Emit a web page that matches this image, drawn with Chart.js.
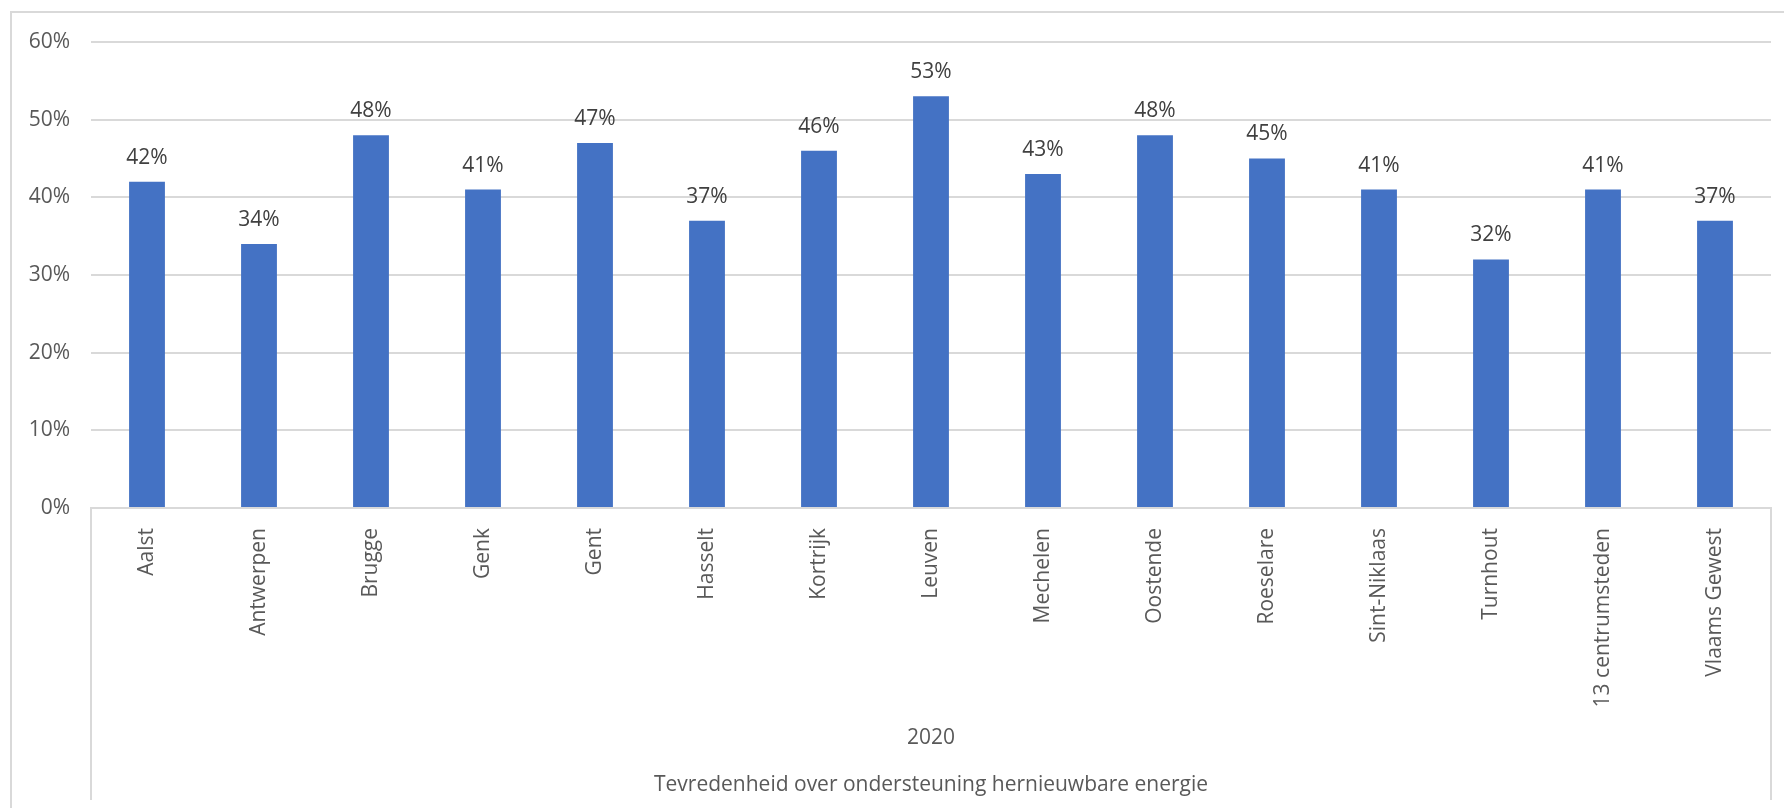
<!DOCTYPE html>
<html>
<head>
<meta charset="utf-8">
<title>Tevredenheid over ondersteuning hernieuwbare energie</title>
<script src="https://cdn.jsdelivr.net/npm/chart.js@4.4.1/dist/chart.umd.min.js"></script>
<style>
  html, body { margin: 0; padding: 0; background: #ffffff; }
  #wrap { width: 1784px; height: 808px; position: relative; }
</style>
</head>
<body>
<div id="wrap"><canvas id="satisfactionChart" width="1784" height="808"></canvas></div>
<script>
// chart data
const cities = ['Aalst', 'Antwerpen', 'Brugge', 'Genk', 'Gent', 'Hasselt', 'Kortrijk', 'Leuven',
  'Mechelen', 'Oostende', 'Roeselare', 'Sint-Niklaas', 'Turnhout', '13 centrumsteden', 'Vlaams Gewest'];
const satisfaction2020 = [42, 34, 48, 41, 47, 37, 46, 53, 43, 48, 45, 41, 32, 41, 37];
const yTicks = [0, 10, 20, 30, 40, 50, 60];
const yearLabel = '2020';
const groupLabel = 'Tevredenheid over ondersteuning hernieuwbare energie';

const FONT = '"Open Sans", "Noto Sans", sans-serif';
const TEXT = '#595959';
const LINE = '#d9d9d9';

// value labels above each bar
const barLabels = {
  id: 'barLabels',
  afterDatasetsDraw(chart) {
    const ctx = chart.ctx;
    const meta = chart.getDatasetMeta(0);
    ctx.save();
    ctx.font = '21px ' + FONT;
    ctx.fillStyle = '#404040';
    ctx.textAlign = 'center';
    ctx.textBaseline = 'middle';
    meta.data.forEach((bar, i) => {
      ctx.fillText(satisfaction2020[i] + '%', bar.x, bar.y - 24);
    });
    ctx.restore();
  }
};

// outer frame, category box lines and the two group rows below the axis
const frame = {
  id: 'frame',
  afterDraw(chart) {
    const ctx = chart.ctx;
    const area = chart.chartArea;
    ctx.save();
    ctx.strokeStyle = LINE;
    ctx.lineWidth = 2;
    ctx.beginPath();
    ctx.moveTo(11, 808);
    ctx.lineTo(11, 12);
    ctx.lineTo(1784, 12);
    ctx.stroke();

    ctx.beginPath();
    ctx.moveTo(area.left, area.bottom);
    ctx.lineTo(area.left, 800);
    ctx.moveTo(area.right, area.bottom);
    ctx.lineTo(area.right, 800);
    ctx.stroke();

    const cx = (area.left + area.right) / 2;
    ctx.fillStyle = TEXT;
    ctx.font = '21px ' + FONT;
    ctx.textAlign = 'center';
    ctx.textBaseline = 'middle';
    ctx.fillText(yearLabel, cx, 738);
    ctx.fillText(groupLabel, cx, 785);
    ctx.restore();
  }
};

new Chart(document.getElementById('satisfactionChart'), {
  type: 'bar',
  data: {
    labels: cities,
    datasets: [{
      data: satisfaction2020,
      backgroundColor: '#4472c4',
      borderWidth: 0,
      barPercentage: 0.32,
      categoryPercentage: 1
    }]
  },
  options: {
    responsive: false,
    animation: false,
    layout: { padding: { top: 42, left: 0, right: 13, bottom: 0 } },
    plugins: {
      legend: { display: false },
      tooltip: { enabled: false }
    },
    scales: {
      x: {
        grid: { display: false, drawTicks: false },
        border: { display: true, color: LINE, width: 2 },
        ticks: {
          color: TEXT,
          font: { family: FONT, size: 21 },
          minRotation: 90,
          maxRotation: 90,
          padding: 20,
          autoSkip: false
        },
        afterFit(scale) { scale.height = 300; }
      },
      y: {
        min: 0,
        max: 60,
        afterBuildTicks(scale) { scale.ticks = yTicks.map(v => ({ value: v })); },
        grid: { color: LINE, lineWidth: 2, drawTicks: false },
        border: { display: false },
        ticks: {
          color: TEXT,
          font: { family: FONT, size: 21 },
          padding: 21,
          callback: v => v + '%'
        },
        afterFit(scale) { scale.width = 91; }
      }
    }
  },
  plugins: [barLabels, frame]
});
</script>
</body>
</html>
